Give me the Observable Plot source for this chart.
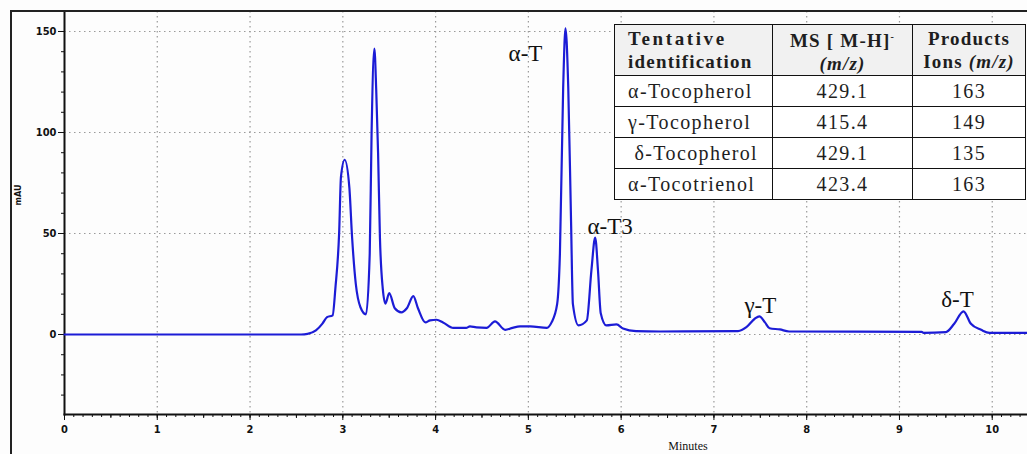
<!DOCTYPE html>
<html>
<head>
<meta charset="utf-8">
<script src="https://cdn.jsdelivr.net/npm/d3@7"></script>
<script src="https://cdn.jsdelivr.net/npm/@observablehq/plot@0.6"></script>
<style>
  html, body { margin: 0; padding: 0; background: #fdfdfd; }
  #wrap { position: relative; width: 1027px; height: 454px; overflow: hidden; background: #fdfdfd; }
  #wrap svg { position: absolute; left: 0; top: 0; }
  #border { position: absolute; left: 10px; top: 10px; width: 1030px; height: 460px;
            border-left: 2px solid #222; border-top: 2px solid #222; box-sizing: border-box; }
  .axlab { position: absolute; color: #111; white-space: nowrap; }
  #ylab { left: 3px; top: 190px; width: 30px; text-align: center; transform: rotate(-90deg);
          font: bold 9px "Liberation Sans Narrow", "DejaVu Sans Condensed", sans-serif; }
  #xlab { left: 648px; top: 439px; width: 80px; text-align: center;
          font: 12px "Liberation Serif", "Times New Roman", serif; }
  #tbl { position: absolute; left: 614px; top: 24px; width: 411px; height: 175px;
         border-collapse: collapse; font-family: "Liberation Serif", "Times New Roman", serif;
         color: #1e1e1e; background: #fff; table-layout: fixed; }
  #tbl td, #tbl th { border: 1.5px solid #111; padding: 0; }
  #tbl th { background: #f1f1f1; font-weight: bold; font-size: 19px; line-height: 23px;
            letter-spacing: 1.2px; height: 49px; }
  #tbl td { font-size: 20px; letter-spacing: 1.4px; height: 30px; text-align: center; }
  #tbl td.name, #tbl th.name { text-align: left; padding-left: 13px; }
  #tbl .tent { letter-spacing: 2.6px; }
</style>
</head>
<body>
<div id="wrap">
  <div id="chart"></div>
  <div id="border"></div>
  <div id="ylab" class="axlab">mAU</div>
  <div id="xlab" class="axlab">Minutes</div>
  <table id="tbl"></table>
</div>
<script>
// ---- chromatogram trace (retention time in minutes, absorbance in mAU) ----
const times = [0, 2.55, 2.62, 2.71, 2.78, 2.83, 2.89, 2.92, 2.96, 2.98, 3.02, 3.07, 3.10, 3.14, 3.19,
  3.25, 3.29, 3.31, 3.34, 3.36, 3.38, 3.40, 3.43, 3.46, 3.50, 3.56, 3.63, 3.69, 3.76, 3.81, 3.89,
  3.94, 4.01, 4.08, 4.19, 4.33, 4.37, 4.44, 4.55, 4.64, 4.75, 4.83, 4.91, 5.02, 5.20, 5.25, 5.31,
  5.34, 5.375, 5.40, 5.43, 5.46, 5.48, 5.54, 5.63, 5.68, 5.72, 5.75, 5.78, 5.84, 5.95, 6.02, 6.16,
  6.42, 7.26, 7.35, 7.44, 7.49, 7.55, 7.60, 7.71, 7.81, 9.24, 9.26, 9.50, 9.59, 9.69, 9.77, 9.88,
  9.97, 10.38];
const mAU = [0, 0, 0.3, 2, 5.4, 8.6, 9.5, 23, 50, 78, 86.5, 73, 48, 25, 13.5,
  10, 40, 99.5, 141.5, 121, 90, 48, 23, 15.3, 20.5, 13, 11, 13, 19, 13, 6,
  7, 7.3, 6, 3.3, 3.3, 4, 3.5, 3.3, 6.5, 2.3, 3.3, 4, 4, 3.3, 6, 15,
  40, 122, 151.5, 122, 56, 15, 4.5, 7, 32, 48, 32, 10.5, 4.5, 5, 3, 1.7,
  1.5, 1.7, 3.6, 7.8, 9, 6, 3.1, 2.5, 1.5, 1.3, 0.8, 1.2, 5.3, 11.5, 5.3, 2.3,
  0.8, 0.8];

// ---- peak annotations ----
const peakNames = ["α-T", "α-T3", "γ-T", "δ-T"];
const peakTimes = [5.40, 5.72, 7.49, 9.69];
const peakHeights = [151.5, 48, 9, 11.5];

// ---- axis ticks ----
const yTicks = [0, 50, 100, 150];
const xTicks = [0, 1, 2, 3, 4, 5, 6, 7, 8, 9, 10];

// ---- inset table ----
const tableHeaders = ["Tentative identification", "MS [ M-H]⁻ (m/z)", "Products Ions (m/z)"];
const compounds = ["α-Tocopherol", "γ-Tocopherol", " δ-Tocopherol", "α-Tocotrienol"];
const msValues = ["429.1", "415.4", "429.1", "423.4"];
const productIons = ["163", "149", "135", "163"];

const trace = times.map((t, i) => ({t, v: mAU[i]}));
const peaks = peakNames.map((n, i) => ({name: n, t: peakTimes[i], v: peakHeights[i]}));

const tickFont = '"Liberation Sans Narrow", "DejaVu Sans Condensed", sans-serif';
const minorX = d3.range(0, 104).map(i => i / 10);
const halfX = d3.range(0, 21).map(i => i / 2);
const minorY = d3.range(-3, 16).map(i => i * 10);

const labelOffsets = {"α-T": [-40, 33], "α-T3": [15, -4], "γ-T": [1, -3], "δ-T": [-6, -4]};

const chart = Plot.plot({
  width: 1027,
  height: 454,
  marginLeft: 64,
  marginRight: 0,
  marginTop: 11,
  marginBottom: 40,
  style: {background: "transparent", overflow: "visible"},
  x: {domain: [0, 10.38]},
  y: {domain: [-39.6, 159.9]},
  marks: [
    Plot.gridY(yTicks, {stroke: "#9a9a9a", strokeOpacity: 1, strokeWidth: 1.2, strokeDasharray: "1.5,3.5"}),
    Plot.gridX(xTicks.slice(1), {stroke: "#9a9a9a", strokeOpacity: 1, strokeWidth: 1.2, strokeDasharray: "1.5,3.5"}),
    Plot.axisX(minorX, {tickSize: 3, text: null, label: null, stroke: "#111"}),
    Plot.axisX(halfX, {tickSize: 4, text: null, label: null, stroke: "#111"}),
    Plot.axisX(xTicks, {tickSize: 6, tickPadding: 5, label: null, stroke: "#111", fill: "#111",
      fontSize: 11, fontWeight: "bold", fontFamily: tickFont, tickFormat: d => String(d)}),
    Plot.axisY(minorY, {tickSize: 3, text: null, label: null, stroke: "#111"}),
    Plot.axisY(yTicks, {tickSize: 6, tickPadding: 2, label: null, stroke: "#111", fill: "#111",
      fontSize: 11, fontWeight: "bold", fontFamily: tickFont, tickFormat: d => String(d)}),
    Plot.frame({anchor: "left", stroke: "#111", strokeWidth: 2}),
    Plot.frame({anchor: "bottom", stroke: "#111", strokeWidth: 2}),
    Plot.line(trace, {x: "t", y: "v", stroke: "#1c1cd6", strokeWidth: 2.2, curve: "monotone-x"}),
    ...peaks.map(p => Plot.text([p], {x: "t", y: "v", text: "name",
      dx: labelOffsets[p.name][0], dy: labelOffsets[p.name][1],
      lineAnchor: "bottom", textAnchor: "middle", fontSize: 23,
      fontFamily: '"Liberation Serif", "Times New Roman", serif', fill: "#111",
      style: "letter-spacing:1.8px"}))
  ]
});
document.getElementById("chart").appendChild(chart);

// build the inset table from the arrays
const tbl = document.getElementById("tbl");
const colW = [158, 140, 113];
const cg = document.createElement("colgroup");
colW.forEach(w => { const c = document.createElement("col"); c.style.width = w + "px"; cg.appendChild(c); });
tbl.appendChild(cg);
const hr = document.createElement("tr");
const h0 = document.createElement("th"); h0.className = "name";
const [tw, iw] = tableHeaders[0].split(" ");
h0.innerHTML = `<span class="tent">${tw}</span><br>${iw}`;
const h1 = document.createElement("th");
const m1 = tableHeaders[1].match(/^(.*)⁻ \((.*)\)$/);
h1.innerHTML = `${m1[1]}<sup style="font-size:10px">-</sup><br><i>(${m1[2]})</i>`;
const h2 = document.createElement("th");
const m2 = tableHeaders[2].match(/^(\S+) (\S+) \((.*)\)$/);
h2.innerHTML = `${m2[1]}<br>${m2[2]} <i>(${m2[3]})</i>`;
hr.append(h0, h1, h2);
tbl.appendChild(hr);
compounds.forEach((c, i) => {
  const tr = document.createElement("tr");
  const a = document.createElement("td"); a.className = "name"; a.textContent = c.replace(/^ /, "\u00a0");
  const b = document.createElement("td"); b.textContent = msValues[i];
  const d = document.createElement("td"); d.textContent = productIons[i];
  tr.append(a, b, d);
  tbl.appendChild(tr);
});
</script>
</body>
</html>
